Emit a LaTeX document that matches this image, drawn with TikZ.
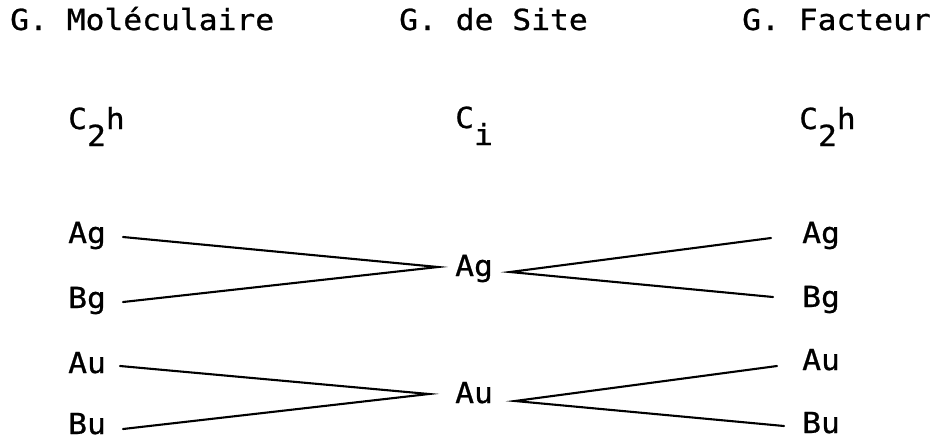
\documentclass[tikz,border=0pt]{standalone}
\usepackage{fontspec}
\setmonofont[FakeStretch=1.08,FakeBold=0.8]{DejaVu Sans Mono}
\begin{document}
\begin{tikzpicture}[x=1pt,y=-1pt,
  lbl/.style={anchor=base west,inner sep=0pt,font=\ttfamily\fontsize{29}{29}\selectfont},
  link/.style={line width=2.1pt,line cap=round}]
\useasboundingbox (0,0) rectangle (943,440);
% headers
\node[lbl] (h1) at (10,30) {G. Moléculaire};
\node[lbl] (h2) at (399,30) {G. de Site};
\node[lbl] (h3) at (742,30) {G. Facteur};
% groups
\node[lbl] (g1) at (68,129) {C\raisebox{-17pt}{2}h};
\node[lbl] (g2) at (455,128) {C\raisebox{-17pt}{i}};
\node[lbl] (g3) at (799,129) {C\raisebox{-17pt}{2}h};
% left column
\node[lbl] (lag) at (68,243) {Ag};
\node[lbl] (lbg) at (68,308) {Bg};
\node[lbl] (lau) at (68,373) {Au};
\node[lbl,text depth=0pt] (lbu) at (68,434) {Bu};
% middle column
\node[lbl] (mag) at (455,276) {Ag};
\node[lbl] (mau) at (455,403) {Au};
% right column
\node[lbl] (rag) at (802,243) {Ag};
\node[lbl] (rbg) at (802,307) {Bg};
\node[lbl] (rau) at (802,370) {Au};
\node[lbl,text depth=0pt] (rbu) at (802,433) {Bu};
% connector ends
\coordinate (a1) at (123,237);
\coordinate (a2) at (123,302);
\coordinate (a3) at (438,267);
\coordinate (a4) at (510,272);
\coordinate (a5) at (771,238);
\coordinate (a6) at (773,297);
\coordinate (b1) at (120,366);
\coordinate (b2) at (123,429);
\coordinate (b3) at (429,394);
\coordinate (b4) at (515,401);
\coordinate (b5) at (777,366);
\coordinate (b6) at (784,426);
\draw[link] (a1) -- (a3) -- (a2);
\draw[link] (a5) -- (a4) -- (a6);
\draw[link] (b1) -- (b3) -- (b2);
\draw[link] (b5) -- (b4) -- (b6);
\end{tikzpicture}
\end{document}
